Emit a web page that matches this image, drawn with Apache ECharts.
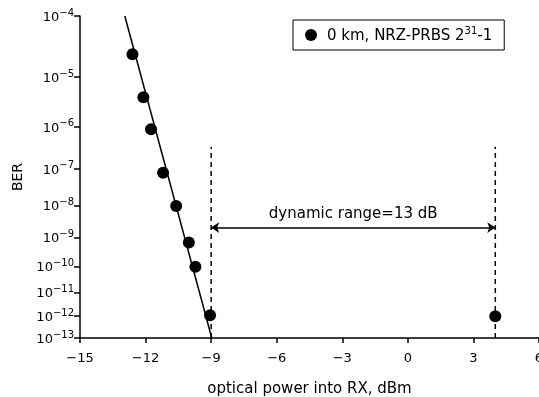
<!DOCTYPE html>
<html>
<head>
<meta charset="utf-8">
<script src="https://cdn.jsdelivr.net/npm/echarts@6/dist/echarts.min.js"></script>
<style>
html,body{margin:0;padding:0;background:#fff;}
#c{width:539px;height:397px;}
</style>
</head>
<body>
<div id="c"></div>
<script>
// ---- data ----
const seriesName = '0 km, NRZ-PRBS 2^31-1';
const powerDbm = [-12.6, -12.1, -11.75, -11.2, -10.6, -10.02, -9.72, -9.05, 4.0];
const berValues = [2.5e-5, 4.1e-6, 8.8e-7, 8.0e-8, 9.6e-9, 6.9e-10, 9.7e-11, 1.1e-12, 1.0e-12];
const fitX = [-12.95, -8.97];
const fitBER = [1e-4, 1e-13];
const leftLimitX = [-9, -9];
const rightLimitX = [4, 4];
const limitBER = [1e-13, 3.5e-7];
const rangeX = [-9, 4];
const rangeBER = 2.1e-9;
const rangeLabel = 'dynamic range=13 dB';
const xTicks = [-15, -12, -9, -6, -3, 0, 3, 6];
const yTickExp = [-4, -5, -6, -7, -8, -9, -10, -11, -12, -13];

// BER scale: log10(-log10(BER))
const tr = b => Math.log10(-Math.log10(b));
const pairs = (xs, ys) => xs.map((x, i) => [x, tr(Array.isArray(ys) ? ys[i] : ys)]);

const FONT = 'DejaVu Sans';
const chart = echarts.init(document.getElementById('c'), null, {renderer: 'canvas'});
chart.setOption({
  animation: false,
  backgroundColor: '#fff',
  grid: {left: 80, right: 0, top: 16, bottom: 59, containLabel: false, outerBoundsMode: 'none'},
  legend: {
    data: [seriesName],
    left: 293, top: 20,
    orient: 'horizontal',
    icon: 'circle',
    itemWidth: 12, itemHeight: 12,
    itemGap: 6,
    padding: [6, 12, 6, 12],
    borderColor: '#000', borderWidth: 1,
    backgroundColor: '#fff',
    formatter: () => '{p|0 km, NRZ-PRBS 2}{s|31}{n|-1}',
    textStyle: {
      color: '#000', fontFamily: FONT, fontSize: 15,
      rich: {
        p: {fontSize: 15, fontFamily: FONT, color: '#000', lineHeight: 18, verticalAlign: 'bottom', padding: [0, 0, 0, 5]},
        n: {fontSize: 15, fontFamily: FONT, color: '#000', lineHeight: 18, verticalAlign: 'bottom'},
        s: {fontSize: 10, fontFamily: FONT, color: '#000', lineHeight: 18, verticalAlign: 'top'}
      }
    }
  },
  xAxis: {
    type: 'value', min: -15, max: 6, interval: 3,
    name: 'optical power into RX, dBm', nameLocation: 'middle', nameGap: 44,
    nameTextStyle: {color: '#000', fontFamily: FONT, fontSize: 15},
    axisLine: {onZero: false, lineStyle: {color: '#000', width: 1.5}},
    axisTick: {show: true, inside: false, length: 5, lineStyle: {color: '#000', width: 1.5}},
    axisLabel: {
      customValues: xTicks,
      color: '#000', fontFamily: FONT, fontSize: 13, margin: 14,
      formatter: v => String(v).replace('-', '\u2212')
    },
    splitLine: {show: false}
  },
  yAxis: {
    type: 'value', inverse: true,
    min: tr(1e-4), max: tr(1e-13),
    name: 'BER', nameLocation: 'middle', nameGap: 53,
    nameTextStyle: {color: '#000', fontFamily: FONT, fontSize: 14},
    axisLine: {onZero: false, lineStyle: {color: '#000', width: 1.5}},
    axisTick: {show: true, length: 6, customValues: yTickExp.map(e => tr(Math.pow(10, e))), lineStyle: {color: '#000', width: 1.5}},
    axisLabel: {
      customValues: yTickExp.map(e => tr(Math.pow(10, e))),
      margin: 6,
      formatter: v => {
        const e = Math.round(Math.pow(10, v));
        return '{b|10}{s|\u2212' + e + '}';
      },
      rich: {
        b: {fontSize: 13, fontFamily: FONT, color: '#000', lineHeight: 16, verticalAlign: 'bottom'},
        s: {fontSize: 10, fontFamily: FONT, color: '#000', lineHeight: 16, verticalAlign: 'top'}
      }
    },
    splitLine: {show: false}
  },
  series: [
    {
      name: 'fit', type: 'line', data: pairs(fitX, fitBER),
      showSymbol: false, symbol: 'none', silent: true,
      lineStyle: {color: '#000', width: 1.5}
    },
    {
      name: 'limL', type: 'line', data: pairs(leftLimitX, limitBER),
      showSymbol: false, symbol: 'none', silent: true,
      lineStyle: {color: '#000', width: 1.5, type: [5, 4]}
    },
    {
      name: 'limR', type: 'line', data: pairs(rightLimitX, limitBER),
      showSymbol: false, symbol: 'none', silent: true,
      lineStyle: {color: '#000', width: 1.5, type: [5, 4]},
      markLine: {
        silent: true,
        symbol: ['arrow', 'arrow'],
        symbolSize: 8,
        lineStyle: {color: '#000', width: 1.5, type: 'solid'},
        label: {
          show: true, position: 'middle', formatter: rangeLabel,
          color: '#000', fontFamily: FONT, fontSize: 15, distance: 6
        },
        data: [[{coord: [rangeX[0], tr(rangeBER)]}, {coord: [rangeX[1], tr(rangeBER)]}]]
      }
    },
    {
      name: seriesName, type: 'scatter', data: pairs(powerDbm, berValues),
      symbol: 'circle', symbolSize: 12,
      itemStyle: {color: '#000', opacity: 1}
    }
  ]
});
</script>
</body>
</html>
